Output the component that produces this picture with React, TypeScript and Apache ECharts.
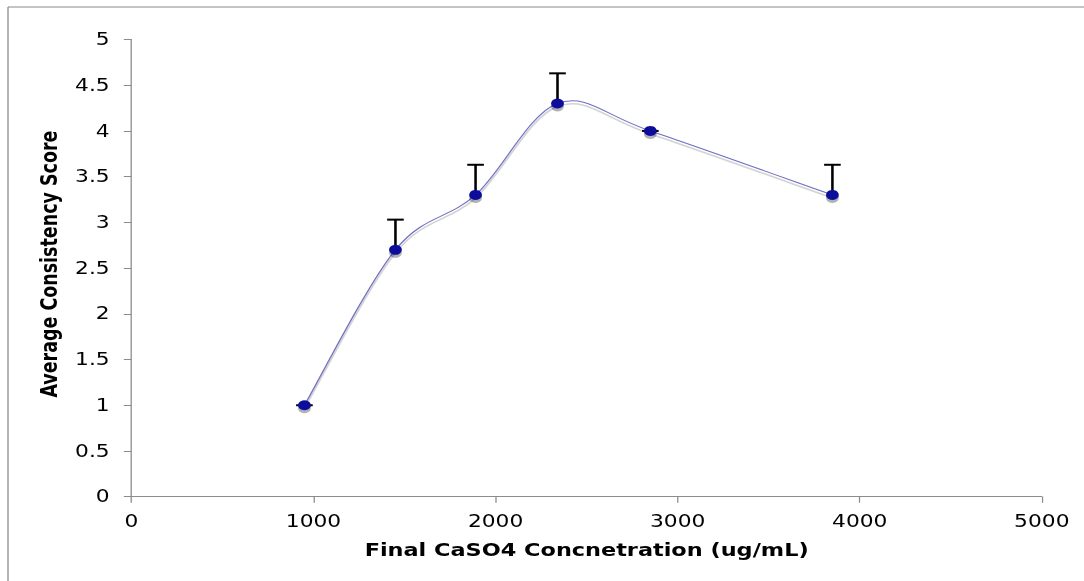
import React, { useEffect, useRef } from "react";
import * as echarts from "echarts";

// Final CaSO4 concentration (ug/mL)
const concentrations = [950, 1450, 1890, 2340, 2850, 3850];
// Average consistency score at each concentration
const scores = [1.0, 2.7, 3.3, 4.3, 4.0, 3.3];
// Upper error (score units) for each point
const upperErrors = [0, 0.33, 0.33, 0.33, 0, 0.33];

const xTicks = { min: 0, max: 5000, interval: 1000 };
const yTicks = { min: 0, max: 5, interval: 0.5 };

// The chart is laid out in a narrower box and stretched horizontally.
const STRETCH = 1.28;
const PAGE_W = 1084;
const PAGE_H = 581;
const BOX_W = PAGE_W / STRETCH;

export default function App() {
  const ref = useRef<HTMLDivElement>(null);

  useEffect(() => {
    if (!ref.current) return;
    const chart = echarts.init(ref.current, undefined, { renderer: "svg" });

    const n = concentrations.length;
    const pointData = concentrations.map((x, i) => [x, scores[i]]);
    const errorData = concentrations.map((x, i) => [x, scores[i], scores[i] + upperErrors[i]]);
    // One item per curve segment: previous, start, end and next point
    // (indices clamped at the ends) for a Catmull-Rom style spline.
    const clamp = (i: number) => Math.max(0, Math.min(n - 1, i));
    const segmentData = concentrations.slice(0, n - 1).map((_, i) => {
      const idx = [clamp(i - 1), i, i + 1, clamp(i + 2)];
      return idx.flatMap((k) => [concentrations[k], scores[k]]);
    });

    const tickFont = { fontFamily: "DejaVu Sans", fontSize: 17, color: "#000" };
    const frameX = 8 / STRETCH;
    const frameY = 7;

    chart.setOption({
      animation: false,
      backgroundColor: "#fff",
      grid: { left: 102.7, right: 33.1, top: 39.5, bottom: 84.3 },
      xAxis: {
        type: "value",
        min: xTicks.min,
        max: xTicks.max,
        interval: xTicks.interval,
        name: "Final CaSO4 Concnetration (ug/mL)",
        nameLocation: "middle",
        nameGap: 44,
        nameTextStyle: { fontFamily: "DejaVu Sans", fontWeight: "bold", fontSize: 17.5, color: "#000" },
        axisLine: { lineStyle: { color: "#8c8c8c", width: 1.2 } },
        axisTick: { show: true, length: 6, lineStyle: { color: "#8c8c8c" } },
        axisLabel: { ...tickFont, margin: 16, formatter: (v: number) => String(v) },
        splitLine: { show: false },
      },
      yAxis: {
        type: "value",
        min: yTicks.min,
        max: yTicks.max,
        interval: yTicks.interval,
        name: "Average Consistency Score",
        nameLocation: "middle",
        nameRotate: 90,
        nameGap: 54,
        nameTextStyle: {
          fontFamily: "DejaVu Sans",
          fontWeight: "bold",
          fontSize: 17.5,
          color: "#000",
          padding: [0, 0, 0, 8],
        },
        axisLine: { show: true, lineStyle: { color: "#8c8c8c", width: 1 } },
        axisTick: { show: true, length: 6, lineStyle: { color: "#8c8c8c" } },
        axisLabel: { ...tickFont, margin: 17, formatter: (v: number) => String(v) },
        splitLine: { show: false },
      },
      graphic: [
        {
          type: "line",
          shape: { x1: frameX, y1: frameY, x2: BOX_W, y2: frameY },
          style: { stroke: "#8a8a8a", lineWidth: 1.2 },
          z: -1,
        },
        {
          type: "line",
          shape: { x1: frameX, y1: frameY, x2: frameX, y2: PAGE_H },
          style: { stroke: "#8a8a8a", lineWidth: 1 },
          z: -1,
        },
      ],
      series: [
        {
          type: "custom",
          name: "curve",
          data: segmentData,
          encode: { x: [0, 2, 4, 6], y: [1, 3, 5, 7] },
          z: 1,
          renderItem: (params: any, api: any) => {
            const p = [0, 1, 2, 3].map((k) => api.coord([api.value(2 * k), api.value(2 * k + 1)]));
            const cp1 = [p[1][0] + (p[2][0] - p[0][0]) / 6, p[1][1] + (p[2][1] - p[0][1]) / 6];
            const cp2 = [p[2][0] - (p[3][0] - p[1][0]) / 6, p[2][1] - (p[3][1] - p[1][1]) / 6];
            const shape = (dy: number) => ({
              x1: p[1][0], y1: p[1][1] + dy,
              x2: p[2][0], y2: p[2][1] + dy,
              cpx1: cp1[0], cpy1: cp1[1] + dy,
              cpx2: cp2[0], cpy2: cp2[1] + dy,
            });
            return {
              type: "group",
              children: [
                {
                  type: "bezierCurve",
                  shape: shape(3),
                  style: { stroke: "#d4d4d4", lineWidth: 1.6, fill: "none" },
                },
                {
                  type: "bezierCurve",
                  shape: shape(0),
                  style: { stroke: "#6f6fc4", lineWidth: 1, fill: "none" },
                },
              ],
            };
          },
        },
        {
          type: "custom",
          name: "error",
          data: errorData,
          z: 2,
          renderItem: (params: any, api: any) => {
            const x = api.value(0);
            const base = api.coord([x, api.value(1)]);
            const top = api.coord([x, api.value(2)]);
            const half = 6.5;
            return {
              type: "group",
              children: [
                {
                  type: "line",
                  shape: { x1: base[0], y1: base[1], x2: top[0], y2: top[1] },
                  style: { stroke: "#000", lineWidth: 2 },
                },
                {
                  type: "line",
                  shape: { x1: top[0] - half, y1: top[1], x2: top[0] + half, y2: top[1] },
                  style: { stroke: "#000", lineWidth: 2 },
                },
              ],
            };
          },
        },
        {
          type: "scatter",
          name: "score",
          data: pointData,
          z: 3,
          symbol: "circle",
          symbolSize: 10,
          itemStyle: {
            color: "#0a0a9c",
            opacity: 1,
            shadowColor: "rgba(0,0,0,0.3)",
            shadowOffsetY: 3,
            shadowBlur: 1,
          },
        },
      ],
    });

    return () => chart.dispose();
  }, []);

  return (
    <div
      ref={ref}
      style={{
        position: "absolute",
        left: 0,
        top: 0,
        width: BOX_W,
        height: PAGE_H,
        transform: `scaleX(${STRETCH})`,
        transformOrigin: "0 0",
        background: "#fff",
      }}
    />
  );
}
